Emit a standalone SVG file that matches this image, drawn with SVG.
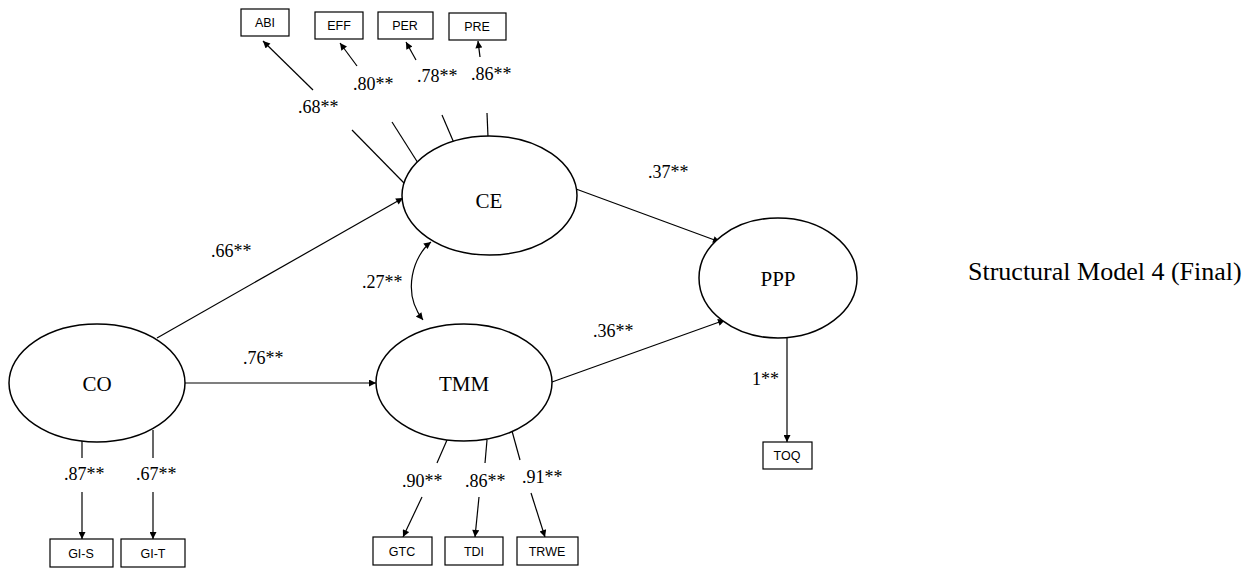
<svg xmlns="http://www.w3.org/2000/svg" width="1258" height="569" viewBox="0 0 1258 569">
<defs>
<marker id="ah" viewBox="0 0 10 10" refX="10" refY="5" markerWidth="9" markerHeight="7" markerUnits="userSpaceOnUse" orient="auto-start-reverse">
<path d="M0,0 L10,5 L0,10 z" fill="#000"/>
</marker>
<style>
.lat{fill:#fff;stroke:#000;stroke-width:1.5}
.box{fill:#fff;stroke:#000;stroke-width:1.2}
.ln{stroke:#000;stroke-width:1.2;fill:none}
.ar{stroke:#000;stroke-width:1.2;fill:none;marker-end:url(#ah)}
.lt{font-family:"Liberation Serif",serif;font-size:21px;text-anchor:middle;fill:#000}
.bt{font-family:"Liberation Sans",sans-serif;font-size:12.5px;text-anchor:middle;fill:#000}
.nt{font-family:"Liberation Serif",serif;font-size:18px;fill:#000}
</style>
</defs>
<rect width="1258" height="569" fill="#fff"/>
<g id="connectors">
<line class="ar" x1="157" y1="338" x2="403" y2="198"/>
<line class="ar" x1="185" y1="383" x2="376" y2="383"/>
<line class="ar" x1="576" y1="189" x2="720" y2="242"/>
<line class="ar" x1="552" y1="382" x2="725" y2="320"/>
<path class="ln" d="M431,242 C414,255 401,292 423,320" marker-start="url(#ah)" marker-end="url(#ah)"/>
<line class="ar" x1="313" y1="90" x2="263" y2="41"/>
<line class="ln" x1="352" y1="130" x2="404" y2="183"/>
<line class="ar" x1="357" y1="66" x2="340" y2="43"/>
<line class="ln" x1="392" y1="122" x2="418" y2="163"/>
<line class="ar" x1="416" y1="60" x2="406" y2="42"/>
<line class="ln" x1="442" y1="115" x2="454" y2="143"/>
<line class="ar" x1="480" y1="57" x2="478" y2="41"/>
<line class="ln" x1="487" y1="113" x2="488" y2="137"/>
<line class="ln" x1="82" y1="440" x2="82" y2="458"/>
<line class="ar" x1="82" y1="492" x2="82" y2="539"/>
<line class="ln" x1="153" y1="430" x2="153" y2="458"/>
<line class="ar" x1="153" y1="492" x2="153" y2="539"/>
<line class="ln" x1="447" y1="440" x2="437" y2="463"/>
<line class="ar" x1="422" y1="497" x2="403" y2="537"/>
<line class="ln" x1="487" y1="440" x2="485" y2="463"/>
<line class="ar" x1="479" y1="497" x2="475" y2="537"/>
<line class="ln" x1="512" y1="431" x2="520" y2="460"/>
<line class="ar" x1="531" y1="493" x2="545" y2="537"/>
<line class="ar" x1="787" y1="337" x2="787" y2="442"/>
</g>
<g id="labels">
<text class="nt" x="211" y="257">.66**</text>
<text class="nt" x="243" y="364">.76**</text>
<text class="nt" x="648" y="178">.37**</text>
<text class="nt" x="593" y="337">.36**</text>
<text class="nt" x="362" y="288">.27**</text>
<text class="nt" x="298" y="113">.68**</text>
<text class="nt" x="353" y="90">.80**</text>
<text class="nt" x="417" y="82">.78**</text>
<text class="nt" x="471" y="80">.86**</text>
<text class="nt" x="64" y="480">.87**</text>
<text class="nt" x="136" y="480">.67**</text>
<text class="nt" x="402" y="487">.90**</text>
<text class="nt" x="465" y="487">.86**</text>
<text class="nt" x="522" y="483">.91**</text>
<text class="nt" x="752" y="385">1**</text>
</g>
<g id="CE"><ellipse class="lat" cx="489.5" cy="195.5" rx="87.5" ry="59.5"/><text class="lt" x="489" y="208">CE</text></g>
<g id="PPP"><ellipse class="lat" cx="778" cy="278" rx="79" ry="60"/><text class="lt" x="778" y="286">PPP</text></g>
<g id="TMM"><ellipse class="lat" cx="464" cy="382.5" rx="88" ry="58.5"/><text class="lt" x="464" y="391">TMM</text></g>
<g id="CO"><ellipse class="lat" cx="97" cy="383" rx="88" ry="59"/><text class="lt" x="97" y="391">CO</text></g>
<g id="ABI"><rect class="box" x="241" y="9" width="48" height="27"/><text class="bt" x="265" y="27">ABI</text></g>
<g id="EFF"><rect class="box" x="315" y="12" width="48" height="27"/><text class="bt" x="339" y="30">EFF</text></g>
<g id="PER"><rect class="box" x="378" y="12" width="55" height="27"/><text class="bt" x="405" y="30">PER</text></g>
<g id="PRE"><rect class="box" x="449" y="13" width="57" height="27"/><text class="bt" x="477" y="31">PRE</text></g>
<g id="GI-S"><rect class="box" x="50" y="539" width="63" height="28"/><text class="bt" x="81" y="558">GI-S</text></g>
<g id="GI-T"><rect class="box" x="121" y="539" width="64" height="28"/><text class="bt" x="153" y="558">GI-T</text></g>
<g id="GTC"><rect class="box" x="373" y="537" width="59" height="28"/><text class="bt" x="402" y="556">GTC</text></g>
<g id="TDI"><rect class="box" x="445" y="537" width="58" height="28"/><text class="bt" x="474" y="556">TDI</text></g>
<g id="TRWE"><rect class="box" x="517" y="537" width="61" height="28"/><text class="bt" x="547" y="556">TRWE</text></g>
<g id="TOQ"><rect class="box" x="763" y="442" width="49" height="27"/><text class="bt" x="787" y="460">TOQ</text></g>
<text x="968" y="280" font-family="Liberation Serif, serif" font-size="26" fill="#000">Structural Model 4 (Final)</text>
</svg>
